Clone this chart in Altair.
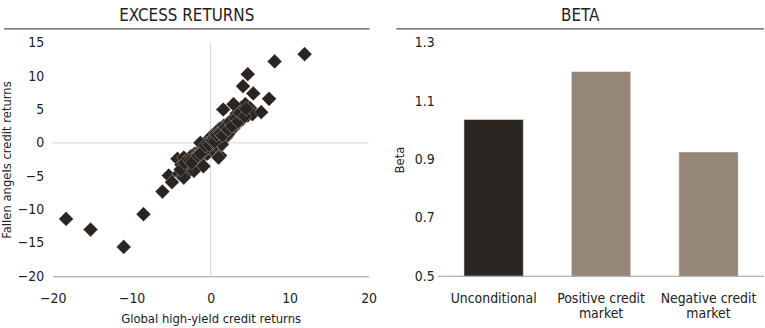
import altair as alt
import pandas as pd

# Scatter data: global high-yield vs fallen angels excess returns
hy_returns = [-18.3, -15.2, -11.0, -8.5, -6.1, -5.3, -4.9, -4.2, -4.0, -3.7, -3.5, -3.4, -3.2, -3.0,
              -2.9, -2.7, -2.5, -2.3, -2.2, -2.0, -1.9, -1.7, -1.5, -1.4, -1.2, -1.1, -1.0, -0.9,
              -0.8, -0.6, -0.5, -0.4, -0.3, -0.2, -0.1, 0.0, 0.1, 0.2, 0.3, 0.4, 0.5, 0.6, 0.7,
              0.8, 0.9, 1.0, 1.1, 1.2, 1.3, 1.4, 1.5, 1.6, 1.7, 1.8, 2.0, 2.1, 2.3, 2.4, 2.6, 2.8,
              2.9, 3.1, 3.3, 3.4, 3.6, 3.8, 4.0, 4.2, 4.4, 4.7, 5.0, 5.3, 1.6, 4.1, 4.7, 5.4, 6.4,
              7.4, 8.1, 11.9, 2.9, -1.3, 1.4, -3.4, -2.1, -0.9, 1.0, 3.9, 3.0, 2.2, -0.7, -1.8,
              -3.8, -3.3, -2.6, -2.4, -1.6, -1.3, -0.7, -0.2, 0.2, 0.5, 0.8, 1.2, 1.5, 1.9, 2.2,
              2.5, 2.7, 3.2, 3.5, 3.7, 4.3, 4.5]
fa_returns = [-11.4, -13.0, -15.6, -10.7, -7.3, -4.9, -5.9, -2.4, -4.6, -3.3, -5.0, -2.2, -3.9, -2.8,
              -4.4, -3.2, -2.0, -3.6, -2.6, -1.6, -3.1, -2.2, -1.4, -2.5, -1.0, -1.9, -3.4, -0.6,
              -1.4, -0.9, 0.1, -1.6, -0.3, 0.6, -0.8, 0.2, -0.4, 1.1, 0.4, -1.2, 0.9, -0.2, 1.4,
              0.6, -0.6, 1.0, 2.1, -1.9, 1.3, -0.3, 2.0, 1.0, 2.6, 1.7, 0.9, 2.4, 3.0, 1.8, 2.8, 3.6,
              2.2, 3.4, 4.4, 2.9, 3.9, 5.2, 3.5, 4.6, 5.8, 4.1, 5.2, 4.3, 5.0, 8.5, 10.3, 7.4, 4.6,
              6.6, 12.2, 13.3, 5.8, 0.0, -0.2, -5.2, -4.2, -3.5, -2.2, 4.2, 2.6, 1.3, -1.1, -2.0,
              -4.0, -3.0, -2.7, -3.0, -1.9, -1.6, -0.4, -0.3, 0.3, 0.2, 1.2, 1.4, 1.1, 2.3, 2.0,
              3.2, 2.5, 3.7, 3.2, 4.5, 4.0, 5.1]

# Bar data
beta_labels = ["Unconditional", "Positive credit market", "Negative credit market"]
beta_values = [1.037, 1.202, 0.926]

FONT = "DejaVu Sans Condensed, Liberation Sans, sans-serif"
DARK = "#2b2522"
LIGHT = "#948679"
LW, LH = 318, 235
RW, RH = 328, 235

scatter_df = pd.DataFrame({"hy": hy_returns, "fa": fa_returns})
bar_df = pd.DataFrame({"cat": beta_labels, "beta": beta_values, "base": [0.5, 0.5, 0.5]})
one = pd.DataFrame({"t": ["EXCESS RETURNS"]})
one_b = pd.DataFrame({"t": ["BETA"]})

xs = alt.Scale(domain=[-20, 20], nice=False)
ys = alt.Scale(domain=[-20, 15], nice=False)
x_axis = alt.Axis(values=[-20, -10, 0, 10, 20], title="Global high-yield credit returns", grid=False,
                  ticks=False, domainColor="#9a9a9a", labelPadding=15, titlePadding=8,
                  labelOverlap=False, labelFlush=False)
y_axis = alt.Axis(values=[-20, -15, -10, -5, 0, 5, 10, 15], title="Fallen angels credit returns",
                  grid=False, ticks=False, domain=False, labelPadding=9, titlePadding=4,
                  labelOverlap=False, labelFlush=False)

points = alt.Chart(scatter_df).mark_point(
    shape="diamond", filled=True, size=220, color=DARK, stroke="white", strokeWidth=0.3, opacity=1
).encode(
    x=alt.X("hy:Q", scale=xs, axis=x_axis),
    y=alt.Y("fa:Q", scale=ys, axis=y_axis),
)

zero_x = alt.Chart(one).mark_rule(color="#d6d6d6", strokeWidth=1).encode(
    x=alt.datum(0, scale=xs, axis=x_axis))
zero_y = alt.Chart(one).mark_rule(color="#d6d6d6", strokeWidth=1).encode(
    y=alt.datum(0, scale=ys, axis=y_axis))

title_l = alt.Chart(one).mark_text(fontSize=17, font=FONT, color="#222", baseline="top").encode(
    x=alt.value(135), y=alt.value(-35), text="t:N")
line_l = alt.Chart(one).mark_rule(color="#555", strokeWidth=1.2).encode(
    x=alt.value(-49), x2=alt.value(319), y=alt.value(-14))

left = alt.layer(zero_x, zero_y, points, title_l, line_l).properties(width=LW, height=LH)

bars = alt.Chart(bar_df).mark_bar(stroke="white", strokeWidth=0.5).encode(
    x=alt.X("cat:N", sort=beta_labels, scale=alt.Scale(paddingInner=0.447, paddingOuter=0.24),
            axis=alt.Axis(title=None, labelAngle=0, ticks=False, domain=False,
                          labelPadding=15, labelOverlap=False,
                          labelExpr="split(replace(datum.label, ' market', '|market'), '|')")),
    y=alt.Y("beta:Q", scale=alt.Scale(domain=[0.5, 1.3], zero=False, nice=False),
            axis=alt.Axis(values=[0.5, 0.7, 0.9, 1.1, 1.3], format=".1f", title="Beta",
                          grid=False, ticks=False, domain=False, labelPadding=4, titlePadding=8,
                          labelOverlap=False, labelFlush=False)),
    y2="base:Q",
    color=alt.Color("cat:N", scale=alt.Scale(domain=beta_labels, range=[DARK, LIGHT, LIGHT]),
                    legend=None),
)
base_r = alt.Chart(one_b).mark_rule(color="#9a9a9a", strokeWidth=1).encode(
    x=alt.value(0), x2=alt.value(RW), y=alt.value(RH))
title_r = alt.Chart(one_b).mark_text(fontSize=17, font=FONT, color="#222", baseline="top").encode(
    x=alt.value(143), y=alt.value(-35), text="t:N")
line_r = alt.Chart(one_b).mark_rule(color="#555", strokeWidth=1.2).encode(
    x=alt.value(-42), x2=alt.value(RW), y=alt.value(-14))

right = alt.layer(bars, base_r, title_r, line_r).properties(width=RW, height=RH)

chart = alt.hconcat(left, right, spacing=70, bounds="flush").properties(
    padding={"left": 0, "top": 6, "right": 0, "bottom": 0}
).configure(font=FONT).configure_view(stroke=None).configure_axis(
    labelFont=FONT, titleFont=FONT, labelFontSize=14, titleFontSize=13,
    labelColor="#222", titleColor="#222", titleFontWeight="normal", labelLineHeight=16
)

chart.save("out.html", embed_options={"renderer": "svg", "actions": False})
